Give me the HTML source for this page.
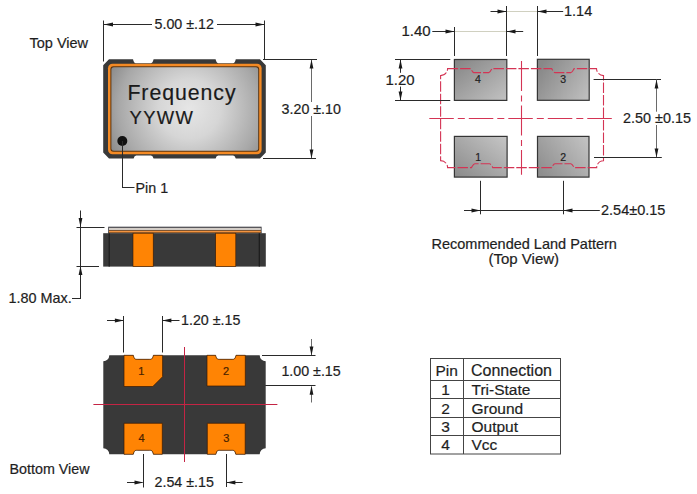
<!DOCTYPE html>
<html><head><meta charset="utf-8"><style>
html,body{margin:0;padding:0;background:#fff;}
svg{display:block;font-family:"Liberation Sans",sans-serif;}
</style></head><body>
<svg width="697" height="494" viewBox="0 0 697 494">
<rect width="697" height="494" fill="#fff"/>
<defs><radialGradient id="tg" cx="0.53" cy="0.5" r="0.6" gradientTransform="translate(0.53,0.5) scale(1,1.7) translate(-0.53,-0.5)"><stop offset="0" stop-color="#e6e6e6"/><stop offset="0.35" stop-color="#d6d6d6"/><stop offset="0.8" stop-color="#a8a8a8"/><stop offset="1" stop-color="#8c8c8c"/></radialGradient><linearGradient id="pg4" x1="0" y1="0" x2="1" y2="1"><stop offset="0" stop-color="#848484"/><stop offset="1" stop-color="#c2c2c2"/></linearGradient><linearGradient id="pg3" x1="0" y1="0.3" x2="1" y2="0.8"><stop offset="0" stop-color="#888888"/><stop offset="1" stop-color="#bdbdbd"/></linearGradient><linearGradient id="pg1" x1="0" y1="1" x2="1" y2="0"><stop offset="0" stop-color="#8a8a8a"/><stop offset="1" stop-color="#c6c6c6"/></linearGradient><linearGradient id="pg2" x1="0" y1="0.8" x2="1" y2="0.2"><stop offset="0" stop-color="#8e8e8e"/><stop offset="1" stop-color="#c0c0c0"/></linearGradient></defs>
<text x="29.5" y="48.3" font-size="14.5" text-anchor="start" fill="#1e1e1e" stroke="#1e1e1e" stroke-width="0.2" >Top View</text>
<line x1="103.5" y1="20.5" x2="103.5" y2="61.5" stroke="#2a2a2a" stroke-width="1"/>
<line x1="264.5" y1="20.5" x2="264.5" y2="60" stroke="#2a2a2a" stroke-width="1"/>
<line x1="104" y1="24.5" x2="152" y2="24.5" stroke="#2a2a2a" stroke-width="1"/>
<polygon points="104,24.5 113,22.6 113,26.4" fill="#1a1a1a"/>
<line x1="217" y1="24.5" x2="264" y2="24.5" stroke="#2a2a2a" stroke-width="1"/>
<polygon points="264.5,24.5 255.5,22.6 255.5,26.4" fill="#1a1a1a"/>
<text x="154.5" y="29" font-size="14.25" text-anchor="start" fill="#1e1e1e" stroke="#1e1e1e" stroke-width="0.2" >5.00 ±.12</text>
<line x1="263" y1="59.5" x2="317" y2="59.5" stroke="#2a2a2a" stroke-width="1"/>
<line x1="263" y1="158.5" x2="316" y2="158.5" stroke="#2a2a2a" stroke-width="1"/>
<line x1="311.5" y1="60" x2="311.5" y2="102" stroke="#6a6a6a" stroke-width="1"/>
<polygon points="311.5,59.5 309.6,68.5 313.4,68.5" fill="#1a1a1a"/>
<line x1="311.5" y1="116" x2="311.5" y2="158" stroke="#6a6a6a" stroke-width="1"/>
<polygon points="311.5,158.5 309.6,149.5 313.4,149.5" fill="#1a1a1a"/>
<text x="281.6" y="113.8" font-size="14.25" text-anchor="start" fill="#1e1e1e" stroke="#1e1e1e" stroke-width="0.2" >3.20 ±.10</text>
<path d="M109,59.2 L133,59.2 C134,63.2 135,63.2 137,63.2 L149.6,63.2 C151.6,63.2 152.6,63.2 153.6,59.2 L215.6,59.2 C216.6,63.2 217.6,63.2 219.6,63.2 L231.8,63.2 C233.8,63.2 234.8,63.2 235.8,59.2 L260,59.2 L265.8,65.2 L265.8,152.6 L260,158.6 L235.8,158.6 C234.8,155.4 233.8,155.4 231.8,155.4 L219.6,155.4 C217.6,155.4 216.6,155.4 215.6,158.6 L153.6,158.6 C152.6,155.4 151.6,155.4 149.6,155.4 L137.6,155.4 C135.6,155.4 134.6,155.4 133.6,158.6 L109,158.6 L103.2,152.6 L103.2,65.2 Z" fill="#393939"/>
<rect x="108" y="63.8" width="153.6" height="90.4" rx="4.5" fill="#f48a24"/>
<rect x="110.4" y="66.2" width="148.8" height="85.6" rx="3" fill="#5a3410"/>
<rect x="111.4" y="67.2" width="146.8" height="83.6" rx="2.5" fill="url(#tg)"/>
<text x="127.4" y="99.9" font-size="21.3" text-anchor="start" fill="#1a1a1a" stroke="#1a1a1a" stroke-width="0.2" letter-spacing="0.95">Frequency</text>
<text x="129.5" y="123.6" font-size="18.4" text-anchor="start" fill="#1a1a1a" stroke="#1a1a1a" stroke-width="0.2" letter-spacing="1.4">YYWW</text>
<circle cx="122.3" cy="141" r="5" fill="#111"/>
<line x1="122.5" y1="141" x2="122.5" y2="188" stroke="#2a2a2a" stroke-width="1"/>
<line x1="122" y1="187.5" x2="134.5" y2="187.5" stroke="#2a2a2a" stroke-width="1"/>
<text x="135.5" y="193" font-size="14.3" text-anchor="start" fill="#1e1e1e" stroke="#1e1e1e" stroke-width="0.2" >Pin 1</text>
<line x1="76.5" y1="227.5" x2="104.5" y2="227.5" stroke="#2a2a2a" stroke-width="1"/>
<line x1="76.5" y1="266.5" x2="99" y2="266.5" stroke="#2a2a2a" stroke-width="1"/>
<line x1="80.5" y1="210.5" x2="80.5" y2="298.5" stroke="#2a2a2a" stroke-width="1"/>
<polygon points="80.5,227 78.6,218 82.4,218" fill="#1a1a1a"/>
<polygon points="80.5,266 78.6,275 82.4,275" fill="#1a1a1a"/>
<line x1="72" y1="298.5" x2="81" y2="298.5" stroke="#2a2a2a" stroke-width="1"/>
<text x="8.5" y="303" font-size="14.4" text-anchor="start" fill="#1e1e1e" stroke="#1e1e1e" stroke-width="0.2" >1.80 Max.</text>
<rect x="108.2" y="226.7" width="153.4" height="6.5" fill="#3a3a40"/>
<rect x="109" y="227.8" width="151.8" height="2.4" fill="#d2ccc6"/>
<rect x="109" y="230.2" width="151.8" height="0.6" fill="#6a3a10"/>
<rect x="109" y="230.8" width="151.8" height="1.9" fill="#f29440"/>
<rect x="108.2" y="232.7" width="153.4" height="0.6" fill="#3a2000"/>
<rect x="103.2" y="233.2" width="162.6" height="33.4" fill="#393939"/>
<rect x="108.6" y="233.2" width="1.2" height="33.4" fill="#1c1c1c"/>
<rect x="258.7" y="233.2" width="1.2" height="33.4" fill="#1c1c1c"/>
<rect x="133" y="233.2" width="20.2" height="33.4" fill="#ff8404" stroke="#3a1800" stroke-width="0.6"/>
<rect x="215.7" y="233.2" width="20.1" height="33.4" fill="#ff8404" stroke="#3a1800" stroke-width="0.6"/>
<line x1="123.5" y1="316" x2="123.5" y2="352.5" stroke="#2a2a2a" stroke-width="1"/>
<line x1="162.5" y1="316" x2="162.5" y2="352.5" stroke="#2a2a2a" stroke-width="1"/>
<line x1="107" y1="320.5" x2="123" y2="320.5" stroke="#2a2a2a" stroke-width="1"/>
<polygon points="123.9,320.5 114.9,318.6 114.9,322.4" fill="#1a1a1a"/>
<line x1="163" y1="320.5" x2="179.5" y2="320.5" stroke="#2a2a2a" stroke-width="1"/>
<polygon points="162.4,320.5 171.4,318.6 171.4,322.4" fill="#1a1a1a"/>
<text x="181" y="325" font-size="14.25" text-anchor="start" fill="#1e1e1e" stroke="#1e1e1e" stroke-width="0.2" >1.20 ±.15</text>
<line x1="262" y1="355.5" x2="315.5" y2="355.5" stroke="#2a2a2a" stroke-width="1"/>
<line x1="248" y1="385.5" x2="315.5" y2="385.5" stroke="#2a2a2a" stroke-width="1"/>
<line x1="311.5" y1="339" x2="311.5" y2="355" stroke="#6a6a6a" stroke-width="1"/>
<polygon points="311.5,355.5 309.6,346.5 313.4,346.5" fill="#1a1a1a"/>
<line x1="311.5" y1="386.5" x2="311.5" y2="402.5" stroke="#6a6a6a" stroke-width="1"/>
<polygon points="311.5,385.8 309.6,394.8 313.4,394.8" fill="#1a1a1a"/>
<text x="281.4" y="375.7" font-size="14.25" text-anchor="start" fill="#1e1e1e" stroke="#1e1e1e" stroke-width="0.2" >1.00 ±.15</text>
<path d="M109.3,355.3 L133.3,355.3 C134.3,359.3 135.3,359.3 137.3,359.3 L149.4,359.3 C151.4,359.3 152.4,359.3 153.4,355.3 L215.6,355.3 C216.6,359.3 217.6,359.3 219.6,359.3 L232,359.3 C234,359.3 235,359.3 236,355.3 L259.7,355.3 A6,6 0 0 0 265.7,361.3 L265.7,448.3 A6,6 0 0 0 259.7,454.3 L235.8,454.3 C234.8,450.3 233.8,450.3 231.8,450.3 L219.9,450.3 C217.9,450.3 216.9,450.3 215.9,454.3 L153.4,454.3 C152.4,450.3 151.4,450.3 149.4,450.3 L137.3,450.3 C135.3,450.3 134.3,450.3 133.3,454.3 L109.3,454.3 A6,6 0 0 0 103.3,448.3 L103.3,361.3 A6,6 0 0 0 109.3,355.3 Z" fill="#393939"/>
<path d="M124,355.3 L133.3,355.3 C134.3,359.3 135.3,359.3 137.3,359.3 L149.4,359.3 C151.4,359.3 152.4,359.3 153.4,355.3 L162.6,355.3 L162.6,376.7 L152.79999999999998,386.5 L124,386.5 Z" fill="#ff8404" stroke="#3a1800" stroke-width="0.7"/>
<path d="M207,355.3 L215.6,355.3 C216.6,359.3 217.6,359.3 219.6,359.3 L232,359.3 C234,359.3 235,359.3 236,355.3 L245.3,355.3 L245.3,386 L207,386 Z" fill="#ff8404" stroke="#3a1800" stroke-width="0.7"/>
<path d="M124,423.3 L162.3,423.3 L162.3,454.3 L153.4,454.3 C152.4,450.3 151.4,450.3 149.4,450.3 L137.3,450.3 C135.3,450.3 134.3,450.3 133.3,454.3 L124,454.3 Z" fill="#ff8404" stroke="#3a1800" stroke-width="0.7"/>
<path d="M207.3,423.3 L245.2,423.3 L245.2,454.3 L235.8,454.3 C234.8,450.3 233.8,450.3 231.8,450.3 L219.9,450.3 C217.9,450.3 216.9,450.3 215.9,454.3 L207.3,454.3 Z" fill="#ff8404" stroke="#3a1800" stroke-width="0.7"/>
<text x="141.3" y="374.8" font-size="11" text-anchor="middle" fill="#4a2200" stroke="#4a2200" stroke-width="0.2" >1</text>
<text x="226" y="374.8" font-size="11" text-anchor="middle" fill="#4a2200" stroke="#4a2200" stroke-width="0.2" >2</text>
<text x="141.6" y="441.6" font-size="11" text-anchor="middle" fill="#4a2200" stroke="#4a2200" stroke-width="0.2" >4</text>
<text x="226.2" y="441.6" font-size="11" text-anchor="middle" fill="#4a2200" stroke="#4a2200" stroke-width="0.2" >3</text>
<line x1="184.5" y1="347" x2="184.5" y2="462" stroke="#c42444" stroke-width="1"/>
<line x1="93.4" y1="404.5" x2="277.4" y2="404.5" stroke="#c42444" stroke-width="1"/>
<line x1="143.5" y1="454" x2="143.5" y2="487.5" stroke="#2a2a2a" stroke-width="1"/>
<line x1="226.5" y1="454" x2="226.5" y2="487" stroke="#2a2a2a" stroke-width="1"/>
<line x1="127" y1="482.5" x2="142.5" y2="482.5" stroke="#2a2a2a" stroke-width="1"/>
<polygon points="143.5,482.5 134.5,480.6 134.5,484.4" fill="#1a1a1a"/>
<line x1="227" y1="482.5" x2="242.6" y2="482.5" stroke="#2a2a2a" stroke-width="1"/>
<polygon points="226.4,482.5 235.4,480.6 235.4,484.4" fill="#1a1a1a"/>
<text x="154.5" y="487.3" font-size="14.25" text-anchor="start" fill="#1e1e1e" stroke="#1e1e1e" stroke-width="0.2" >2.54 ±.15</text>
<text x="9.5" y="474" font-size="14.3" text-anchor="start" fill="#1e1e1e" stroke="#1e1e1e" stroke-width="0.2" >Bottom View</text>
<rect x="454.4" y="59.5" width="52.4" height="40.9" fill="url(#pg4)" stroke="#353535" stroke-width="1.2"/>
<rect x="537.4" y="59.3" width="51.8" height="41.0" fill="url(#pg3)" stroke="#353535" stroke-width="1.2"/>
<rect x="454.4" y="136.4" width="52.7" height="40.7" fill="url(#pg1)" stroke="#353535" stroke-width="1.2"/>
<rect x="537.5" y="136.4" width="51.5" height="40.7" fill="url(#pg2)" stroke="#353535" stroke-width="1.2"/>
<text x="478" y="82.8" font-size="10.5" text-anchor="middle" fill="#222" stroke="#222" stroke-width="0.2" >4</text>
<text x="563.2" y="82.6" font-size="10.5" text-anchor="middle" fill="#222" stroke="#222" stroke-width="0.2" >3</text>
<text x="478.2" y="161" font-size="10.5" text-anchor="middle" fill="#222" stroke="#222" stroke-width="0.2" >1</text>
<text x="563.1" y="161" font-size="10.5" text-anchor="middle" fill="#222" stroke="#222" stroke-width="0.2" >2</text>
<path d="M447.6,68.6 L470.7,68.6 C471.5,69.8 472.5,72.6 474,72.6 L488.8,72.6 C490.3,72.6 491.2,69.8 491.9,68.6 L551.7,68.6 C552.5,69.8 553.5,72.6 555,72.6 L570.8,72.6 C572.3,72.6 573.3,69.8 574.1,68.6 L596.5,68.6 A7,7 0 0 0 603.5,75.6 L603.5,160.8 A6.8,6.8 0 0 0 596.7,167.6 L574.1,167.6 C573.3,166.4 572.3,163.8 570.8,163.8 L555,163.8 C553.5,163.8 552.5,166.4 551.7,167.6 L492.8,167.6 C492,166.4 491,163.8 489.5,163.8 L474.8,163.8 C473.3,163.8 472.3,166.4 471.5,167.6 L447.6,167.6 A7,7 0 0 0 440.6,160.6 L440.6,75.6 A7,7 0 0 0 447.6,68.6 Z" fill="none" stroke="#d43454" stroke-width="1.1" stroke-dasharray="10.5,2"/>
<line x1="521.5" y1="61" x2="521.5" y2="174.8" stroke="#d43454" stroke-width="1.1" stroke-dasharray="30,4.5,6,4"/>
<line x1="429.3" y1="118.5" x2="614.1" y2="118.5" stroke="#d43454" stroke-width="1.1" stroke-dasharray="24.5,4,7,4"/>
<line x1="454.5" y1="27" x2="454.5" y2="56" stroke="#2a2a2a" stroke-width="1"/>
<line x1="506.5" y1="6" x2="506.5" y2="56" stroke="#2a2a2a" stroke-width="1"/>
<line x1="537.5" y1="6" x2="537.5" y2="56" stroke="#2a2a2a" stroke-width="1"/>
<line x1="432.3" y1="31.5" x2="454" y2="31.5" stroke="#2a2a2a" stroke-width="1"/>
<polygon points="454.5,31.5 445.5,29.6 445.5,33.4" fill="#1a1a1a"/>
<line x1="455" y1="31.5" x2="506" y2="31.5" stroke="#d0d0c0" stroke-width="1"/>
<line x1="507" y1="31.5" x2="523.2" y2="31.5" stroke="#2a2a2a" stroke-width="1"/>
<polygon points="506.5,31.5 515.5,29.6 515.5,33.4" fill="#1a1a1a"/>
<text x="401.5" y="36.4" font-size="15" text-anchor="start" fill="#1e1e1e" stroke="#1e1e1e" stroke-width="0.2" >1.40</text>
<line x1="490.5" y1="11.5" x2="506" y2="11.5" stroke="#2a2a2a" stroke-width="1"/>
<polygon points="506.5,11.5 497.5,9.6 497.5,13.4" fill="#1a1a1a"/>
<line x1="507" y1="11.5" x2="537" y2="11.5" stroke="#d0d0c0" stroke-width="1"/>
<line x1="538" y1="11.5" x2="563.2" y2="11.5" stroke="#2a2a2a" stroke-width="1"/>
<polygon points="537.5,11.5 546.5,9.6 546.5,13.4" fill="#1a1a1a"/>
<text x="564" y="15.7" font-size="14.5" text-anchor="start" fill="#1e1e1e" stroke="#1e1e1e" stroke-width="0.2" >1.14</text>
<line x1="395" y1="59.5" x2="450.3" y2="59.5" stroke="#2a2a2a" stroke-width="1"/>
<line x1="395" y1="100.5" x2="450.3" y2="100.5" stroke="#2a2a2a" stroke-width="1"/>
<line x1="400.5" y1="60" x2="400.5" y2="72.8" stroke="#2a2a2a" stroke-width="1"/>
<polygon points="400.5,59.5 398.6,68.5 402.4,68.5" fill="#1a1a1a"/>
<line x1="400.5" y1="86.6" x2="400.5" y2="100" stroke="#2a2a2a" stroke-width="1"/>
<polygon points="400.5,100.5 398.6,91.5 402.4,91.5" fill="#1a1a1a"/>
<text x="385.5" y="85" font-size="15" text-anchor="start" fill="#1e1e1e" stroke="#1e1e1e" stroke-width="0.2" >1.20</text>
<line x1="593.6" y1="79.5" x2="661" y2="79.5" stroke="#2a2a2a" stroke-width="1"/>
<line x1="594" y1="157.5" x2="661.8" y2="157.5" stroke="#2a2a2a" stroke-width="1"/>
<line x1="656.5" y1="79.5" x2="656.5" y2="111.7" stroke="#6a6a6a" stroke-width="1"/>
<polygon points="656.5,79.5 654.6,88.5 658.4,88.5" fill="#1a1a1a"/>
<line x1="656.5" y1="125" x2="656.5" y2="157" stroke="#6a6a6a" stroke-width="1"/>
<polygon points="656.5,157.5 654.6,148.5 658.4,148.5" fill="#1a1a1a"/>
<text x="623" y="122.8" font-size="14.4" text-anchor="start" fill="#1e1e1e" stroke="#1e1e1e" stroke-width="0.2" >2.50 ±0.15</text>
<line x1="480.5" y1="180.8" x2="480.5" y2="214.3" stroke="#2a2a2a" stroke-width="1"/>
<line x1="563.5" y1="180.8" x2="563.5" y2="214.3" stroke="#2a2a2a" stroke-width="1"/>
<line x1="464" y1="210.5" x2="480.5" y2="210.5" stroke="#2a2a2a" stroke-width="1"/>
<polygon points="480.5,210.5 471.5,208.6 471.5,212.4" fill="#1a1a1a"/>
<line x1="481" y1="210.5" x2="563" y2="210.5" stroke="#2a2a2a" stroke-width="1"/>
<line x1="563.5" y1="210.5" x2="599.8" y2="210.5" stroke="#2a2a2a" stroke-width="1"/>
<polygon points="563.5,210.5 572.5,208.6 572.5,212.4" fill="#1a1a1a"/>
<text x="601" y="215" font-size="14.5" text-anchor="start" fill="#1e1e1e" stroke="#1e1e1e" stroke-width="0.2" >2.54±0.15</text>
<text x="431.5" y="248.5" font-size="14.5" text-anchor="start" fill="#1e1e1e" stroke="#1e1e1e" stroke-width="0.2" >Recommended Land Pattern</text>
<text x="488.5" y="263.6" font-size="15" text-anchor="start" fill="#1e1e1e" stroke="#1e1e1e" stroke-width="0.2" >(Top View)</text>
<rect x="430.5" y="358.5" width="130" height="95.5" fill="none" stroke="#444" stroke-width="1"/>
<line x1="463.5" y1="358.5" x2="463.5" y2="454" stroke="#444" stroke-width="1"/>
<line x1="430" y1="380.5" x2="560.5" y2="380.5" stroke="#444" stroke-width="1"/>
<line x1="430" y1="398.5" x2="560.5" y2="398.5" stroke="#444" stroke-width="1"/>
<line x1="430" y1="417.5" x2="560.5" y2="417.5" stroke="#444" stroke-width="1"/>
<line x1="430" y1="435.5" x2="560.5" y2="435.5" stroke="#444" stroke-width="1"/>
<text x="435.5" y="375.7" font-size="15.5" text-anchor="start" fill="#1e1e1e" stroke="#1e1e1e" stroke-width="0.2" >Pin</text>
<text x="471" y="375.7" font-size="16" text-anchor="start" fill="#1e1e1e" stroke="#1e1e1e" stroke-width="0.2" >Connection</text>
<text x="445.5" y="394.8" font-size="15.5" text-anchor="middle" fill="#1e1e1e" stroke="#1e1e1e" stroke-width="0.2" >1</text>
<text x="471.5" y="394.8" font-size="15.5" text-anchor="start" fill="#1e1e1e" stroke="#1e1e1e" stroke-width="0.2" >Tri-State</text>
<text x="445.5" y="413.5" font-size="15.5" text-anchor="middle" fill="#1e1e1e" stroke="#1e1e1e" stroke-width="0.2" >2</text>
<text x="471.5" y="413.5" font-size="15.5" text-anchor="start" fill="#1e1e1e" stroke="#1e1e1e" stroke-width="0.2" >Ground</text>
<text x="445.5" y="432.4" font-size="15.5" text-anchor="middle" fill="#1e1e1e" stroke="#1e1e1e" stroke-width="0.2" >3</text>
<text x="471.5" y="432.4" font-size="15.5" text-anchor="start" fill="#1e1e1e" stroke="#1e1e1e" stroke-width="0.2" >Output</text>
<text x="445.5" y="450.4" font-size="15.5" text-anchor="middle" fill="#1e1e1e" stroke="#1e1e1e" stroke-width="0.2" >4</text>
<text x="471.5" y="450.4" font-size="15.5" text-anchor="start" fill="#1e1e1e" stroke="#1e1e1e" stroke-width="0.2" >Vcc</text>
</svg></body></html>
